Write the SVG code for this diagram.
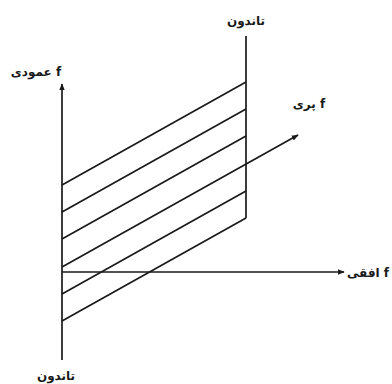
<svg xmlns="http://www.w3.org/2000/svg" width="392" height="384" viewBox="0 0 392 384">
<style>
.ln{stroke:#1a1a1a;stroke-width:1.7;fill:none}
.lb{font-family:"DejaVu Sans",sans-serif;font-weight:bold;font-size:12px;fill:#1a1a1a}
</style>
<defs>
<marker id="ah" viewBox="0 0 10 10" refX="9" refY="5" markerWidth="7" markerHeight="7" markerUnits="userSpaceOnUse" orient="auto">
<path d="M0,1 L10,5 L0,9 Z" fill="#1a1a1a"/>
</marker>
</defs>
<rect width="392" height="384" fill="#fff"/>
<g id="connectors">
<line class="ln" x1="62" y1="360" x2="62" y2="84" marker-end="url(#ah)"/>
<line class="ln" x1="62" y1="272" x2="344" y2="272" marker-end="url(#ah)"/>
<line class="ln" x1="246" y1="36" x2="246" y2="218"/>
<line class="ln" x1="62" y1="185" x2="246" y2="82"/>
<line class="ln" x1="62" y1="212" x2="246" y2="109"/>
<line class="ln" x1="62" y1="239" x2="246" y2="136"/>
<line class="ln" x1="62" y1="267" x2="298" y2="135" marker-end="url(#ah)"/>
<line class="ln" x1="62" y1="294" x2="246" y2="191"/>
<line class="ln" x1="62" y1="321" x2="246" y2="218"/>
</g>
<g id="label-top"><text class="lb" x="246" y="25" text-anchor="middle" direction="rtl">تاندون</text></g>
<g id="label-vertical"><text class="lb" x="36" y="76" text-anchor="middle" direction="rtl">f عمودی</text></g>
<g id="label-depth"><text class="lb" x="309" y="108" text-anchor="middle" direction="rtl">f پری</text></g>
<g id="label-horizontal"><text class="lb" x="368" y="277" text-anchor="middle" direction="rtl">f افقی</text></g>
<g id="label-bottom"><text class="lb" x="56" y="380" text-anchor="middle" direction="rtl">تاندون</text></g>
</svg>
